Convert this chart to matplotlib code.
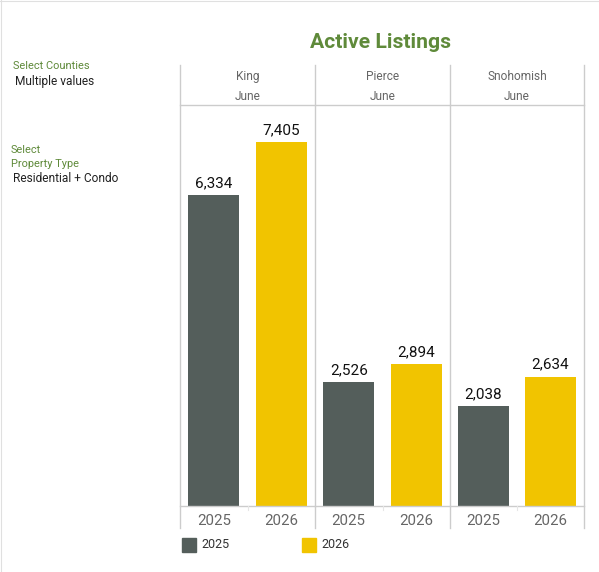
import matplotlib
matplotlib.use("Agg")
import matplotlib.pyplot as plt
from matplotlib.patches import Rectangle
from matplotlib.lines import Line2D

plt.rcParams['font.family'] = ['Roboto', 'DejaVu Sans']

counties = ["King", "Pierce", "Snohomish"]
month = "June"
years = ["2025", "2026"]
values_2025 = [6334, 2526, 2038]
values_2026 = [7405, 2894, 2634]
colors = ["#545e5b", "#f1c400"]

W, H = 599, 572
fig = plt.figure(figsize=(W / 100, H / 100), dpi=100)

def fx(px):
    return px / W

def fy(py):
    return 1 - py / H

green = "#5f8a3a"
grid = "#cccccc"

# Title
fig.text(fx(381), fy(43), "Active Listings", ha="center", va="center",
         fontsize=15.2, fontweight="bold", color=green)

# Left filter texts
fig.text(fx(13), fy(66), "Select Counties", ha="left", va="center", fontsize=7.9, color=green)
fig.text(fx(15), fy(82), "Multiple values", ha="left", va="center", fontsize=8.6, color="#222222")
fig.text(fx(11), fy(150), "Select", ha="left", va="center", fontsize=7.9, color=green)
fig.text(fx(11), fy(164), "Property Type", ha="left", va="center", fontsize=7.9, color=green)
fig.text(fx(13), fy(179), "Residential + Condo", ha="left", va="center", fontsize=8.6, color="#222222")

# figure border lines (left and top)
fig.add_artist(Line2D([fx(0.5), fx(0.5)], [fy(0), fy(572)], color="#e0e0e0", lw=0.8))
fig.add_artist(Line2D([fx(0), fx(599)], [fy(0.5), fy(0.5)], color="#e0e0e0", lw=0.8))

edges = [180, 315, 450, 584]
top_px, base_px = 105, 506
ymax = 7405 * (base_px - top_px) / (base_px - 142)

for i, c in enumerate(counties):
    x0, x1 = edges[i], edges[i + 1]
    ax = fig.add_axes([fx(x0), fy(base_px), fx(x1 - x0), (base_px - top_px) / H])
    ax.set_xlim(-0.5, 1.5)
    ax.set_ylim(0, ymax)
    vals = [values_2025[i], values_2026[i]]
    bars = ax.bar([0, 1], vals, width=0.756, color=colors, zorder=2)
    for b, v in zip(bars, vals):
        ax.text(b.get_x() + b.get_width() / 2, v + ymax * 0.012, f"{v:,}",
                ha="center", va="bottom", fontsize=11, color="#111111")
    ax.set_xticks([0, 1])
    ax.set_xticklabels(years, fontsize=10.8, color="#666666")
    ax.tick_params(axis="x", length=0, pad=6)
    ax.set_yticks([])
    for s in ["top", "left", "right"]:
        ax.spines[s].set_visible(False)
    ax.spines["bottom"].set_color(grid)
    ax.spines["bottom"].set_linewidth(1)
    # header texts
    xm = (x0 + x1) / 2
    fig.text(fx(xm), fy(76), c, ha="center", va="center", fontsize=8.6, color="#666666")
    fig.text(fx(xm), fy(96), month, ha="center", va="center", fontsize=8.6, color="#666666")
    # small tick between years
    fig.add_artist(Line2D([fx(xm), fx(xm)], [fy(506), fy(510)], color="#e6e6e6", lw=0.8))

# panel dividers
for e in edges:
    fig.add_artist(Line2D([fx(e), fx(e)], [fy(65), fy(528)], color=grid, lw=1))
# header bottom line
fig.add_artist(Line2D([fx(180), fx(584)], [fy(105), fy(105)], color=grid, lw=1))

# Legend
for k, (lx, yr) in enumerate([(182, "2025"), (302, "2026")]):
    fig.add_artist(Rectangle((fx(lx), fy(552)), fx(14), 14 / H, color=colors[k], transform=fig.transFigure))
    fig.text(fx(lx + 19), fy(545), yr, ha="left", va="center", fontsize=9, color="#333333")

fig.savefig("out.png", dpi=100)
